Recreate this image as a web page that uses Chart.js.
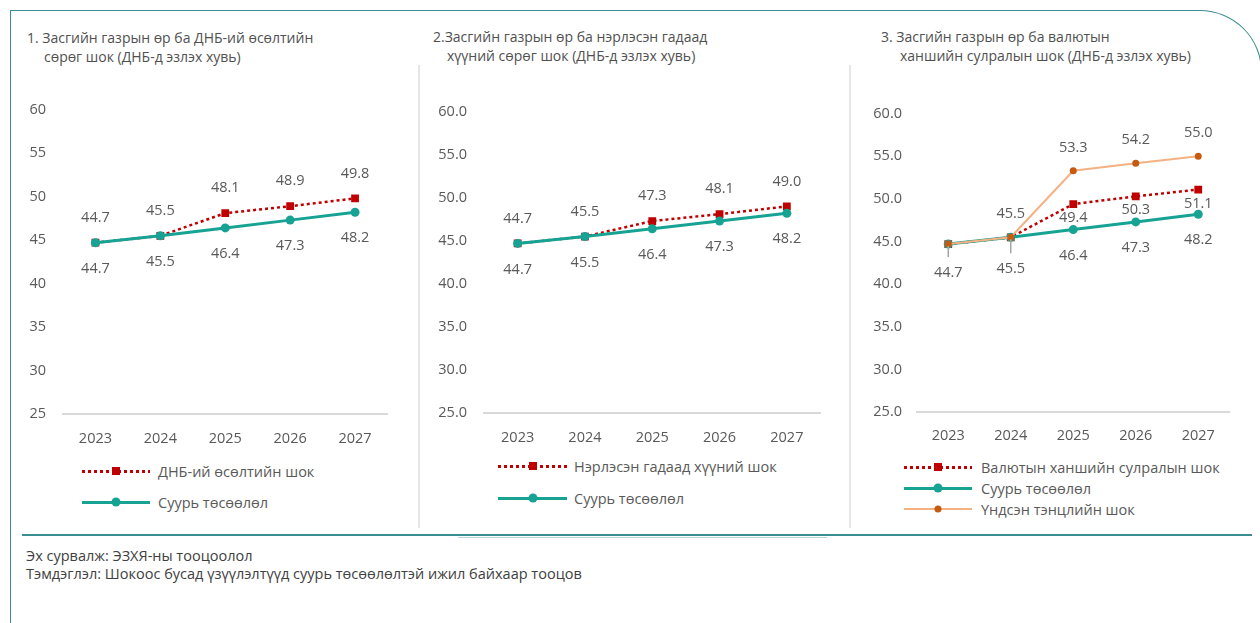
<!DOCTYPE html>
<html>
<head>
<meta charset="utf-8">
<script src="https://cdn.jsdelivr.net/npm/chart.js@4.4.1/dist/chart.umd.min.js"></script>
<style>
  html, body { margin: 0; padding: 0; background: #fff; }
  body { width: 1260px; height: 623px; position: relative; overflow: hidden;
         font-family: 'Open Sans', sans-serif; color: #595959; }
  .abs { position: absolute; }
  .frame { left: 10px; top: 10px; width: 1252px; height: 700px;
           border-top: 1.5px solid #3a8d93; border-left: 1.5px solid #3a8d93;
           border-right: 1.5px solid #3a8d93; border-top-right-radius: 62px; box-sizing: border-box; }
  .sep { width: 1.5px; background: #e6e6e6; top: 65px; height: 463px; }
  .title { font-size: 14px; line-height: 19px; color: #505050; white-space: nowrap; }
  .leg { display: flex; align-items: center; height: 20px; font-size: 14.5px; color: #595959; white-space: nowrap; }
  .sw { position: relative; height: 20px; }
  .sw .ln { position: absolute; left: 0; right: 0; top: 50%; }
  .sw .mk { position: absolute; left: 50%; top: 50%; transform: translate(-50%, -50%); }
  .red .ln { height: 3px; margin-top: -1.5px;
             background: repeating-linear-gradient(to right, #c00000 0 3px, transparent 3px 6px); }
  .red .mk { width: 8px; height: 8px; background: #c00000; }
  .teal .ln { height: 3px; margin-top: -1.5px; background: #17a393; }
  .teal .mk { width: 9px; height: 9px; border-radius: 50%; background: #17a393; }
  .orng .ln { height: 2px; margin-top: -1px; background: #f4b183; }
  .orng .mk { width: 7px; height: 7px; border-radius: 50%; background: #c55a11; }
  .foot { left: 26px; font-size: 14.5px; color: #404040; white-space: nowrap; }
</style>
</head>
<body>
<div class="abs frame"></div>
<div class="abs" style="left:22px; top:534px; width:1230px; height:1.5px; background:#3a8d93;"></div>
<div class="abs" style="left:458px; top:536.5px; width:369px; height:1.5px; background:#b5d6d9;"></div>
<div class="abs sep" style="left:418px;"></div>
<div class="abs sep" style="left:849px;"></div>

<div class="abs title" style="left:27px; top:28px;">1. Засгийн газрын өр ба ДНБ-ий өсөлтийн</div>
<div class="abs title" style="left:44px; top:47px;">сөрөг шок (ДНБ-д эзлэх хувь)</div>
<div class="abs title" style="left:433px; top:27px;">2.Засгийн газрын өр ба нэрлэсэн гадаад</div>
<div class="abs title" style="left:447px; top:46px;">хүүний сөрөг шок (ДНБ-д эзлэх хувь)</div>
<div class="abs title" style="left:881px; top:27px;">3. Засгийн газрын өр ба валютын</div>
<div class="abs title" style="left:900px; top:46px;">ханшийн сулралын шок (ДНБ-д эзлэх хувь)</div>

<canvas id="c1" class="abs" width="373" height="350" style="left:20px; top:100px;"></canvas>
<canvas id="c2" class="abs" width="396" height="349" style="left:430px; top:100px;"></canvas>
<canvas id="c3" class="abs" width="370" height="348" style="left:865px; top:100px;"></canvas>

<!-- легенд -->
<div class="abs leg" style="left:82px; top:461px;"><div class="sw red" style="width:68px;"><div class="ln"></div><div class="mk"></div></div><span style="margin-left:8px;">ДНБ-ий өсөлтийн шок</span></div>
<div class="abs leg" style="left:82px; top:492px;"><div class="sw teal" style="width:68px;"><div class="ln"></div><div class="mk"></div></div><span style="margin-left:8px;">Суурь төсөөлөл</span></div>

<div class="abs leg" style="left:498px; top:456px;"><div class="sw red" style="width:69px;"><div class="ln"></div><div class="mk"></div></div><span style="margin-left:7px;">Нэрлэсэн гадаад хүүний шок</span></div>
<div class="abs leg" style="left:498px; top:488px;"><div class="sw teal" style="width:69px;"><div class="ln"></div><div class="mk"></div></div><span style="margin-left:7px;">Суурь төсөөлөл</span></div>

<div class="abs leg" style="left:904px; top:457px;"><div class="sw red" style="width:68px;"><div class="ln"></div><div class="mk"></div></div><span style="margin-left:9px;">Валютын ханшийн сулралын шок</span></div>
<div class="abs leg" style="left:904px; top:478px;"><div class="sw teal" style="width:68px;"><div class="ln"></div><div class="mk"></div></div><span style="margin-left:9px;">Суурь төсөөлөл</span></div>
<div class="abs leg" style="left:904px; top:499px;"><div class="sw orng" style="width:68px;"><div class="ln"></div><div class="mk"></div></div><span style="margin-left:9px;">Үндсэн тэнцлийн шок</span></div>

<div class="abs foot" style="top:546px;">Эх сурвалж: ЭЗХЯ-ны тооцоолол</div>
<div class="abs foot" style="top:564px;">Тэмдэглэл: Шокоос бусад үзүүлэлтүүд суурь төсөөлөлтэй ижил байхаар тооцов</div>

<script>
// Өгөгдөл
const years = ['2023', '2024', '2025', '2026', '2027'];
const baseline = [44.7, 45.5, 46.4, 47.3, 48.2];
const gdpShock = [44.7, 45.5, 48.1, 48.9, 49.8];
const rateShock = [44.7, 45.5, 47.3, 48.1, 49.0];
const fxShock = [44.7, 45.5, 49.4, 50.3, 51.1];
const balanceShock = [44.7, 45.5, 53.3, 54.2, 55.0];
const yMin = 25;
const yMax = 60;
const yStep = 5;

const TEXT = '#595959';
Chart.defaults.font.family = "'Open Sans', sans-serif";
Chart.defaults.font.size = 14.5;
Chart.defaults.color = TEXT;

// Утгын шошго зурах
const valueLabels = {
    id: 'valueLabels',
    afterDatasetsDraw(chart) {
        const ctx = chart.ctx;
        ctx.save();
        ctx.font = "14.5px 'Open Sans', sans-serif";
        ctx.fillStyle = TEXT;
        ctx.textAlign = 'center';
        ctx.textBaseline = 'middle';
        chart.data.datasets.forEach((ds, i) => {
            const meta = chart.getDatasetMeta(i);
            meta.data.forEach((pt, j) => {
                if (ds.labelSkip && ds.labelSkip.includes(j)) return;
                let dy = ds.labelDy;
                if (ds.leader && ds.leader[j]) {
                    dy = ds.leader[j];
                    ctx.strokeStyle = '#a6a6a6';
                    ctx.lineWidth = 1.5;
                    ctx.beginPath();
                    ctx.moveTo(pt.x, pt.y + 2);
                    ctx.lineTo(pt.x, pt.y + dy - 16);
                    ctx.stroke();
                }
                ctx.fillText(ds.data[j].toFixed(1), pt.x, pt.y + dy);
            });
        });
        ctx.restore();
    }
};

function redSet(data, extra) {
    return Object.assign({
        data: data,
        borderColor: '#c00000',
        borderWidth: 2.5,
        borderDash: [3, 3],
        pointStyle: 'rect',
        pointRadius: 5.5,
        pointBackgroundColor: '#c00000',
        pointBorderColor: '#c00000',
        pointBorderWidth: 0,
        labelDy: -25,
        order: 3
    }, extra || {});
}

function tealSet(data, extra) {
    return Object.assign({
        data: data,
        borderColor: '#17a393',
        borderWidth: 3,
        pointRadius: 4.5,
        pointBackgroundColor: '#17a393',
        pointBorderColor: '#17a393',
        pointBorderWidth: 0,
        labelDy: 26,
        order: 2
    }, extra || {});
}

function orangeSet(data, extra) {
    return Object.assign({
        data: data,
        borderColor: '#f4b183',
        borderWidth: 2,
        pointRadius: 3.5,
        pointBackgroundColor: '#c55a11',
        pointBorderColor: '#c55a11',
        pointBorderWidth: 0,
        labelDy: -23,
        order: 1
    }, extra || {});
}

function makeChart(id, datasets, decimals, yWidth, yPad, xPad) {
    return new Chart(document.getElementById(id), {
        type: 'line',
        data: { labels: years, datasets: datasets },
        options: {
            responsive: false,
            maintainAspectRatio: false,
            animation: false,
            devicePixelRatio: 1,
            layout: { padding: 0 },
            elements: { line: { tension: 0 } },
            plugins: { legend: { display: false }, tooltip: { enabled: false } },
            scales: {
                x: {
                    offset: true,
                    grid: { display: false, drawTicks: false },
                    border: { display: true, color: '#d9d9d9', width: 2 },
                    ticks: { padding: xPad, color: TEXT, font: { size: 14.5 } },
                    afterFit(scale) { scale.height = 36; }
                },
                y: {
                    min: yMin,
                    max: yMax,
                    grid: { display: false, drawTicks: false },
                    border: { display: false },
                    ticks: {
                        stepSize: yStep,
                        padding: yPad,
                        color: TEXT,
                        font: { size: 14.5 },
                        callback: v => v.toFixed(decimals)
                    },
                    afterFit(scale) { scale.width = yWidth; }
                }
            }
        },
        plugins: [valueLabels]
    });
}

// Графикийн талбайг хүссэн байрлалд тааруулах
function place(chart, top, bottom) {
    const el = chart.canvas;
    for (let k = 0; k < 3; k++) {
        const a = chart.chartArea;
        const below = chart.height - a.bottom;
        const canvasTop = top - a.top;
        el.style.top = canvasTop + 'px';
        chart.resize(chart.width, Math.round(bottom - canvasTop + below));
    }
}

const ch1 = makeChart('c1', [tealSet(baseline), redSet(gdpShock)], 0, 43, 17, 16);
const ch2 = makeChart('c2', [tealSet(baseline), redSet(rateShock)], 1, 54, 17, 16);
const ch3 = makeChart('c3', [
    redSet(fxShock, { labelDy: 14, labelSkip: [0, 1] }),
    tealSet(baseline, { leader: { 0: 29, 1: 32 } }),
    orangeSet(balanceShock, { labelSkip: [0] })
], 1, 52, 15, 15);

place(ch1, 110, 414);
place(ch2, 112, 413);
place(ch3, 114, 412);
</script>
</body>
</html>
